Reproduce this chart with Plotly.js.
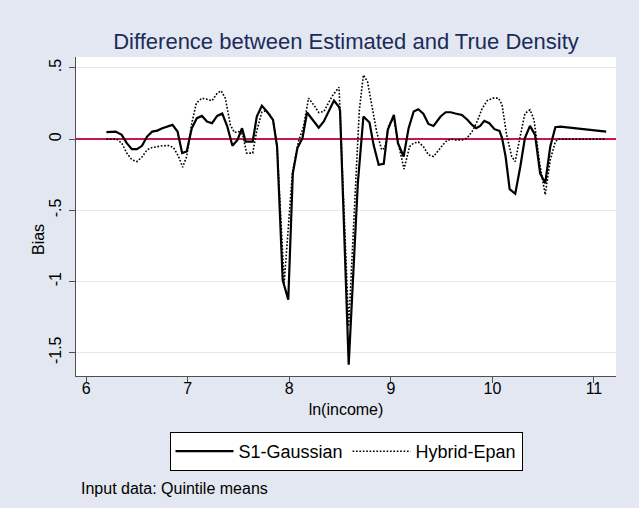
<!DOCTYPE html>
<html>
<head>
<meta charset="utf-8">
<script src="https://cdn.plot.ly/plotly-3.0.1.min.js"></script>
<style>html,body{margin:0;padding:0;background:#e2e7f1;}</style>
</head>
<body>
<div id="chart" style="width:639px;height:508px;"></div>
<script>
// S1-Gaussian
const s1X = [6.20,6.29,6.35,6.40,6.45,6.50,6.55,6.60,6.65,6.70,6.75,6.81,6.85,6.90,6.945,6.99,7.04,7.09,7.14,7.19,7.24,7.29,7.34,7.39,7.44,7.49,7.535,7.57,7.64,7.68,7.73,7.78,7.84,7.88,7.935,7.99,8.035,8.08,8.13,8.175,8.29,8.34,8.44,8.49,8.50,8.585,8.675,8.73,8.79,8.83,8.88,8.93,8.97,9.03,9.07,9.126,9.175,9.225,9.27,9.32,9.37,9.42,9.49,9.54,9.59,9.635,9.70,9.756,9.80,9.84,9.88,9.92,9.97,10.02,10.07,10.095,10.13,10.17,10.225,10.275,10.32,10.37,10.42,10.47,10.52,10.57,10.62,10.67,10.87,11.12];
const s1Y = [0.049,0.053,0.030,-0.028,-0.070,-0.070,-0.047,0.018,0.053,0.060,0.077,0.088,0.100,0.053,-0.098,-0.087,0.077,0.147,0.163,0.124,0.112,0.163,0.180,0.088,-0.047,-0.005,0.077,-0.017,-0.017,0.159,0.234,0.194,0.135,-0.052,-0.990,-1.128,-0.240,-0.063,0.007,0.187,0.080,0.124,0.271,0.225,0.200,-1.584,-0.310,0.159,0.117,-0.040,-0.180,-0.173,0.065,0.170,-0.028,-0.122,0.077,0.194,0.210,0.178,0.107,0.093,0.159,0.189,0.189,0.180,0.170,0.135,0.100,0.077,0.093,0.128,0.112,0.070,0.058,0.007,-0.122,-0.351,-0.384,-0.192,0.007,0.093,0.030,-0.240,-0.310,-0.052,0.084,0.088,0.072,0.053];

// Hybrid-Epan
const heX = [6.20,6.30,6.35,6.40,6.45,6.50,6.55,6.60,6.65,6.70,6.75,6.81,6.86,6.91,6.95,6.99,7.04,7.085,7.14,7.19,7.24,7.29,7.33,7.37,7.42,7.46,7.50,7.54,7.58,7.64,7.68,7.73,7.77,7.81,7.84,7.88,7.95,8.03,8.09,8.14,8.19,8.24,8.29,8.34,8.42,8.49,8.585,8.67,8.69,8.73,8.77,8.815,8.86,8.91,8.94,8.98,9.03,9.08,9.13,9.185,9.225,9.27,9.32,9.37,9.42,9.49,9.54,9.59,9.635,9.70,9.75,9.80,9.85,9.90,9.95,10.006,10.06,10.095,10.14,10.19,10.225,10.27,10.32,10.37,10.41,10.465,10.52,10.57,10.62,10.65,11.12];
const heY = [0.000,0.000,-0.028,-0.098,-0.145,-0.157,-0.126,-0.075,-0.059,-0.052,-0.047,-0.045,-0.059,-0.122,-0.197,-0.122,0.112,0.253,0.288,0.280,0.270,0.323,0.339,0.288,0.100,0.047,0.053,0.035,-0.098,-0.098,0.060,0.190,0.200,0.170,0.130,-0.050,-1.010,-0.240,-0.017,0.088,0.288,0.241,0.187,0.194,0.300,0.365,-1.315,-0.075,0.206,0.451,0.404,0.229,0.053,-0.075,-0.063,0.100,0.147,-0.052,-0.210,-0.052,-0.028,-0.020,-0.052,-0.110,-0.122,-0.060,-0.017,0.000,-0.005,-0.005,0.007,0.053,0.124,0.217,0.271,0.288,0.288,0.241,0.030,-0.122,-0.157,0.007,0.180,0.206,0.135,-0.168,-0.390,-0.145,-0.017,0.000,0.000];

const xTicks = [6,7,8,9,10,11];
const yTicks = [0.5,0,-0.5,-1,-1.5];
const yTickText = ['.5','0','-.5','-1','-1.5'];

const FONT = '"Liberation Sans", Arial, Helvetica, sans-serif';

const traces = [
  {x: s1X, y: s1Y, type: 'scatter', mode: 'lines', name: 'S1-Gaussian',
   line: {color: '#000000', width: 2.2}},
  {x: heX, y: heY, type: 'scatter', mode: 'lines', name: 'Hybrid-Epan',
   line: {color: '#000000', width: 1.6, dash: '1.7px,1.7px'}}
];

const layout = {
  width: 639, height: 508,
  paper_bgcolor: '#e2e7f1', plot_bgcolor: '#ffffff',
  margin: {l: 76, r: 23, t: 57, b: 132},
  font: {family: FONT, color: '#000000', size: 16},
  title: {text: 'Difference between Estimated and True Density',
          font: {family: FONT, size: 22, color: '#1c2b59'},
          x: 0.5, xref: 'paper', y: 1 - 41/508, yref: 'container', yanchor: 'middle'},
  xaxis: {range: [5.90, 11.217], tickvals: xTicks, ticktext: xTicks.map(String),
          showgrid: false, zeroline: false, showline: true, linecolor: '#505050', linewidth: 1,
          ticks: 'outside', ticklen: 6, tickcolor: '#505050', tickfont: {size: 16},
          ticklabelstandoff: -8,
          title: {text: 'ln(income)', font: {size: 16}, standoff: 7}},
  yaxis: {range: [-1.664, 0.577], tickvals: yTicks, ticktext: yTickText, tickangle: -90,
          showgrid: true, gridcolor: '#e3e8f1', gridwidth: 1,
          zeroline: true, zerolinecolor: '#c8174a', zerolinewidth: 1.5,
          showline: true, linecolor: '#505050', linewidth: 1,
          ticks: 'outside', ticklen: 6, tickcolor: '#505050', tickfont: {size: 16},
          ticklabelstandoff: 2},
  showlegend: true,
  legend: {orientation: 'h', x: 0.5, xanchor: 'center', y: -(432-376)/319, yanchor: 'top',
           bgcolor: '#ffffff', bordercolor: '#000000', borderwidth: 1,
           font: {size: 18}, itemwidth: 58, traceorder: 'normal'},
  annotations: [
    {text: 'Bias', xref: 'paper', yref: 'paper', x: -(76-38)/540, y: (376-240)/319,
     xanchor: 'center', yanchor: 'middle', textangle: -90, showarrow: false, font: {size: 16}},
    {text: 'Input data: Quintile means', xref: 'paper', yref: 'paper',
     x: (79-76)/540, y: -(488-376)/319, xanchor: 'left', yanchor: 'middle',
     showarrow: false, font: {size: 16}}]
};

Plotly.newPlot('chart', traces, layout, {displayModeBar: false, staticPlot: true});
</script>
</body>
</html>
